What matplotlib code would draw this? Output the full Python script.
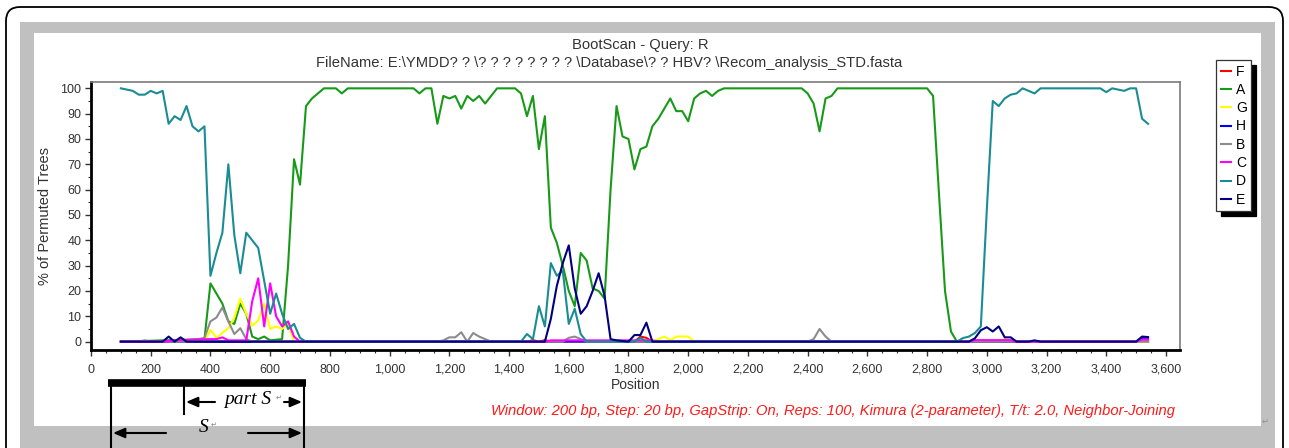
"""
BootScan plot (SimPlot style) for query R against HBV genotypes A-H,
as pasted into a document: grey frame, legend with shadow and the
hand-drawn 'S' / 'part S' scale under the x axis.
"""

import matplotlib
matplotlib.use("Agg")
import matplotlib.pyplot as plt
from matplotlib.patches import Rectangle, FancyBboxPatch
from matplotlib.ticker import MultipleLocator, FuncFormatter

plt.rcParams["font.family"] = ["Liberation Sans", "DejaVu Sans"]

W, H, DPI = 1289, 448, 100

# (position, % of permuted trees), window steps of 20 bp
F_pts = [(100, 0), (1460, 0), (1480, 0.6), (1500, 0), (1520, 0.6), (1540, 0),
         (1820, 0), (1840, 2), (1860, 1.5), (1880, 0), (3540, 0)]

A_pts = [(100, 0), (380, 1), (400, 23), (420, 19), (440, 15), (460, 8), (480, 7),
         (500, 15), (520, 11), (540, 2), (560, 1), (580, 2), (600, 0.5), (640, 1),
         (660, 30), (680, 72), (700, 62), (720, 93), (740, 96), (760, 98), (780, 100),
         (820, 100), (840, 98), (860, 100), (1080, 100), (1100, 98), (1120, 100),
         (1140, 100), (1160, 86), (1180, 97), (1200, 96), (1220, 97), (1240, 92),
         (1260, 97), (1280, 95), (1300, 97), (1320, 94), (1340, 97), (1360, 100),
         (1420, 100), (1440, 98), (1460, 89), (1480, 97), (1500, 76), (1520, 89),
         (1540, 45), (1560, 39), (1580, 30), (1600, 20), (1620, 14), (1640, 35),
         (1660, 32), (1680, 21), (1700, 20), (1720, 17), (1740, 60), (1760, 93),
         (1780, 81), (1800, 80), (1820, 68), (1840, 76), (1860, 77), (1880, 85),
         (1900, 88), (1920, 92), (1940, 96), (1960, 91), (1980, 91), (2000, 87),
         (2020, 96), (2040, 98), (2060, 99), (2080, 97), (2100, 99), (2120, 100),
         (2380, 100), (2400, 98), (2420, 94), (2440, 83), (2460, 96), (2480, 97),
         (2500, 100), (2800, 100), (2820, 97), (2840, 58), (2860, 20), (2880, 4),
         (2900, 0), (3540, 0)]

G_pts = [(100, 0), (380, 0), (400, 4.7), (420, 1.5), (440, 3.5), (460, 5.3),
         (480, 9.5), (500, 17), (520, 11), (540, 6.3), (560, 8.3), (580, 15),
         (600, 5), (620, 6), (640, 5), (660, 7), (680, 0), (1880, 0), (1900, 1),
         (1920, 2), (1940, 0.5), (1960, 2), (2000, 2), (2020, 0), (3040, 0),
         (3060, 1), (3080, 0), (3540, 0)]

H_pts = [(100, 0), (3500, 0), (3520, 1.5), (3540, 1.5)]

B_pts = [(100, 0), (160, 0), (180, 0.5), (200, 0), (340, 0), (360, 1), (380, 1.5),
         (400, 8), (420, 9.5), (440, 13.5), (460, 8), (480, 3), (500, 5.3), (520, 1),
         (540, 0), (1160, 0), (1180, 0.5), (1200, 1.7), (1220, 1.7), (1240, 3.7),
         (1260, 0), (1280, 3.4), (1300, 2), (1320, 1), (1340, 0), (1580, 0),
         (1600, 1.5), (1620, 2), (1640, 1), (1660, 0), (2400, 0), (2420, 1),
         (2440, 5), (2460, 2), (2480, 0), (3540, 0)]

C_pts = [(100, 0), (240, 0), (280, 0.5), (400, 1), (420, 1), (440, 1.7), (460, 0.5),
         (520, 0.5), (540, 16), (560, 25), (580, 6), (600, 23), (620, 10), (640, 6),
         (660, 8), (680, 2), (700, 0), (1520, 0), (1540, 0.5), (1880, 0.5), (1900, 0),
         (2940, 0), (2960, 0.6), (3080, 0.6), (3100, 0), (3500, 0), (3520, 0.8),
         (3540, 0.8)]

D_pts = [(100, 100), (140, 99), (160, 97.5), (180, 97.5), (200, 99), (220, 98),
         (240, 99), (260, 86), (280, 89), (300, 87.5), (320, 93), (340, 85), (360, 83),
         (380, 85), (400, 26), (420, 35), (440, 43), (460, 70), (480, 42), (500, 27),
         (520, 43), (540, 40), (560, 37), (580, 24), (600, 11), (620, 19), (640, 11),
         (660, 5), (680, 7), (700, 1.5), (720, 0), (1440, 0), (1460, 3), (1480, 1),
         (1500, 14), (1520, 6), (1540, 31), (1560, 26), (1580, 28), (1600, 7),
         (1620, 13), (1640, 3), (1660, 0), (1820, 0), (1840, 1.5), (1860, 0),
         (2900, 0), (2920, 1.4), (2940, 2), (2960, 3.4), (2980, 6), (3000, 52),
         (3020, 95), (3040, 93), (3060, 96), (3080, 97.5), (3100, 98), (3120, 100),
         (3140, 99), (3160, 98), (3180, 100), (3380, 100), (3400, 98.5), (3420, 100),
         (3460, 99), (3480, 100), (3500, 100), (3520, 88), (3540, 86)]

E_pts = [(100, 0), (240, 0), (260, 2), (280, 0), (300, 1.7), (320, 0), (1520, 0),
         (1540, 9), (1560, 22), (1580, 31), (1600, 38), (1620, 21), (1640, 11),
         (1660, 14), (1680, 20), (1700, 27), (1720, 18), (1740, 1), (1760, 0.5),
         (1800, 0), (1820, 2.6), (1840, 2.6), (1860, 7.5), (1880, 0), (2940, 0),
         (2960, 1.3), (2980, 4.5), (3000, 5.7), (3020, 4), (3040, 6), (3060, 1.7),
         (3080, 1.7), (3100, 0), (3140, 0), (3160, 0.5), (3180, 0), (3500, 0),
         (3520, 2), (3540, 1.8)]

SERIES = [("F", F_pts, "#ff0000"), ("A", A_pts, "#179a17"), ("G", G_pts, "#ffff00"),
          ("H", H_pts, "#0000ff"), ("B", B_pts, "#8c8c8c"), ("C", C_pts, "#ff00ff"),
          ("D", D_pts, "#1a8c94"), ("E", E_pts, "#000080")]

TITLE = "BootScan - Query: R"
FILENAME = ("FileName: E:\\YMDD? ? \\? ? ? ? ? ? ? ? \\Database\\? ? HBV? "
            "\\Recom_analysis_STD.fasta")
SETTINGS = ("Window: 200 bp, Step: 20 bp, GapStrip: On, Reps: 100, "
            "Kimura (2-parameter), T/t: 2.0, Neighbor-Joining")

fig = plt.figure(figsize=(W / DPI, H / DPI), dpi=DPI)

# page background: rounded frame, grey border, white panel (pixel coords)
bg = fig.add_axes([0, 0, 1, 1], zorder=0)
bg.set_xlim(0, W)
bg.set_ylim(H, 0)
bg.axis("off")
bg.add_patch(FancyBboxPatch((6, 7), W - 12, H + 40,
                            boxstyle="round,pad=0,rounding_size=14",
                            fc="white", ec="black", lw=1.3))
bg.add_patch(Rectangle((20, 22), 1255, H, fc="#c0c0c0", ec="none"))
bg.add_patch(Rectangle((34, 33), 1227, 393, fc="white", ec="none"))
bg.text(1265, 421, "\u21b5", fontsize=6, color="#909090", family="DejaVu Sans",
        ha="center", va="center")

ax = fig.add_axes([91 / W, 1 - 350 / H, 1089 / W, 268 / H], zorder=2)
handles = []
for name, pts, color in SERIES:
    xs = [p[0] for p in pts]
    ys = [p[1] for p in pts]
    line, = ax.plot(xs, ys, color=color, lw=1.5, label=name, solid_joinstyle="round")
    handles.append(line)

ax.set_xlim(0, 3647)
ax.set_ylim(-3.3, 102.5)
ax.xaxis.set_major_locator(MultipleLocator(200))
ax.xaxis.set_minor_locator(MultipleLocator(50))
ax.yaxis.set_major_locator(MultipleLocator(10))
ax.yaxis.set_minor_locator(MultipleLocator(5))
ax.xaxis.set_major_formatter(FuncFormatter(lambda v, p: f"{int(v):,}"))
ax.tick_params(which="both", direction="out", colors="#333333", labelsize=9)
ax.tick_params(which="major", length=4, width=1)
ax.tick_params(which="minor", length=2.5, width=0.8)
ax.tick_params(axis="x", pad=6)
ax.tick_params(axis="y", pad=3)
for side in ("left", "bottom"):
    ax.spines[side].set_color("black")
    ax.spines[side].set_linewidth(2)
for side in ("top", "right"):
    ax.spines[side].set_color("#7a7a7a")
    ax.spines[side].set_linewidth(1.2)

ax.set_xlabel("Position", fontsize=10, color="#333333")
ax.xaxis.set_label_coords(0.5, -0.105)
ax.set_ylabel("% of Permuted Trees", fontsize=10.5, color="#333333")
ax.yaxis.set_label_coords(-0.036, 0.5)

leg = ax.legend(handles=handles, loc="upper left",
                bbox_to_anchor=(1216 / W, 1 - 60 / H), bbox_transform=fig.transFigure,
                fontsize=10, frameon=True, fancybox=False, edgecolor="#333333",
                framealpha=1, handlelength=0.75, handletextpad=0.35,
                labelspacing=0.31, borderpad=0.33, borderaxespad=0,
                shadow={"ox": 3.5, "oy": -3.5, "color": "black", "alpha": 1})
leg.get_frame().set_linewidth(0.9)

fig.text(640 / W, 1 - 45 / H, TITLE, ha="center", va="center", fontsize=10.6,
         color="#333333")
fig.text(609 / W, 1 - 63 / H, FILENAME, ha="center", va="center", fontsize=10.6,
         color="#333333")
fig.text(833 / W, 1 - 411 / H, SETTINGS, ha="center", va="center", fontsize=10.6,
         color="#ff1a1a", style="italic")

# hand-drawn S / part S scale below the axis
ov = fig.add_axes([0, 0, 1, 1], zorder=3)
ov.set_xlim(0, W)
ov.set_ylim(H, 0)
ov.axis("off")
ov.patch.set_alpha(0)
ov.plot([108, 306], [383, 383], color="black", lw=5.5, solid_capstyle="butt")
for xv, y1 in [(111, 448), (304, 448), (184, 414)]:
    ov.plot([xv, xv], [383, y1], color="black", lw=1.5)
arrow = dict(arrowstyle="-|>,head_length=0.7,head_width=0.3", color="black",
             lw=1.5, shrinkA=0, shrinkB=0)
ov.annotate("", xy=(186, 402), xytext=(215, 402), arrowprops=arrow)
ov.annotate("", xy=(302, 402), xytext=(284, 402), arrowprops=arrow)
ov.annotate("", xy=(113, 433), xytext=(166, 433), arrowprops=arrow)
ov.annotate("", xy=(302, 433), xytext=(248, 433), arrowprops=arrow)
ov.text(248, 400, "part S", family="Liberation Serif", style="italic", fontsize=14,
        ha="center", va="center")
ov.text(204, 427, "S", family="Liberation Serif", style="italic", fontsize=14,
        ha="center", va="center")
for xv, yv in [(279, 398), (214, 425)]:
    ov.text(xv, yv, "\u21b5", fontsize=5, color="#808080", family="DejaVu Sans",
            ha="center", va="center")

fig.savefig("out.png", dpi=DPI)
plt.close(fig)
